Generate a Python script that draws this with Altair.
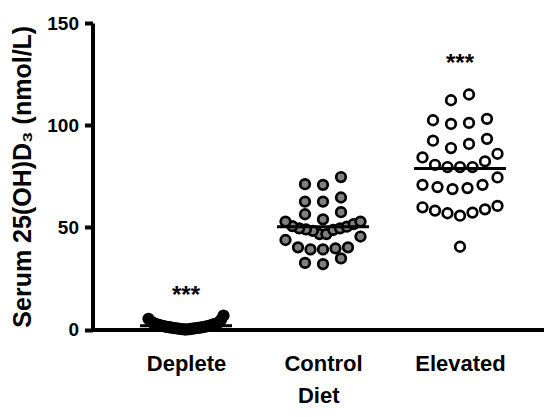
import json
import altair as alt
import pandas as pd

# ---------------- data ----------------
categories = ["Deplete", "Control", "Elevated"]
fills = ["#000000", "#808080", "#ffffff"]

deplete = [6.8, 0.4, 1.2, 2.5, 0.1, 3.1, 0.9, 1.6, 0.2, 2.2, 4.6, 0.6, 1.9, 0.3, 3.4,
           1.1, 0.0, 2.8, 0.8, 1.4, 0.5, 2.0, 3.9, 0.7, 1.3, 0.2, 2.6, 1.7, 0.9, 5.2]
control = [74.6, 71.1, 70.8, 64.6, 62.6, 62.6, 57.4, 56.4, 53.9, 52.8, 51.6, 52.8,
           50.6, 50.3, 49.5, 49.5, 49.0, 48.8, 48.3, 46.7, 46.7, 45.5, 43.8, 40.2,
           40.2, 39.2, 39.2, 39.7, 34.8, 32.6, 32.0]
elevated = [112.2, 115.0, 103.1, 101.1, 100.6, 102.4, 92.4, 88.8, 90.8, 93.3, 84.2,
            86.0, 80.6, 79.5, 79.5, 79.5, 82.3, 70.8, 69.7, 68.7, 69.2, 70.8, 74.4,
            59.8, 58.2, 56.9, 55.7, 57.2, 58.8, 60.5, 40.5]
groups = [deplete, control, elevated]

sig_groups = ["Deplete", "Elevated"]
sig_text = ["***", "***"]
sig_y = [13.1, 126.5]

# ---------------- layout helpers ----------------
PAD_L, PAD_T = 84.5, 15
W, H = 451.5, 306.5
PX_X = 137.0                       # px per category step
X0 = -(186 - 8 - PAD_L) / PX_X     # left end of the x domain
X_DOMAIN = [X0, X0 + W / PX_X]
PX_Y = H / 150.0
BIN = 7.0        # value span of one swarm row
MAXW = 75.0      # max row width in px
STEP = 18.0      # preferred spacing in px


def swarm(vals):
    s = sorted(vals)
    rows = []
    for v in s:
        if rows and v - rows[-1][0] <= BIN:
            rows[-1].append(v)
        else:
            rows.append([v])
    out = []
    for row in rows:
        n = len(row)
        step = STEP if n < 2 else min(STEP, MAXW / (n - 1))
        slots = sorted([i - (n - 1) / 2 for i in range(n)], key=lambda t: (abs(t), t))
        for v, t in zip(row, slots):
            out.append((v, t * step / PX_X))
    return out


pts = []
means = []
for gi, (name, vals) in enumerate(zip(categories, groups)):
    for v, off in swarm(vals):
        pts.append({"group": name, "x": gi + off, "value": v})
    m = sum(vals) / len(vals)
    means.append({"group": name, "x1": gi - 0.336, "x2": gi + 0.336, "mean": m})

pts_df = pd.DataFrame(pts)
mean_df = pd.DataFrame(means)
sig_df = pd.DataFrame({
    "x": [categories.index(g) for g in sig_groups],
    "y": sig_y,
    "text": sig_text,
})

FONT = "Liberation Sans"
label_expr = json.dumps(categories) + "[datum.value]"

x_scale = alt.Scale(domain=X_DOMAIN, nice=False, zero=False)
y_scale = alt.Scale(domain=[0, 150], nice=False)

x_axis = alt.Axis(
    values=[0, 1, 2], labelExpr=label_expr, title="Diet", grid=False, ticks=False,
    domainColor="black", domainWidth=4, labelFont=FONT, labelFontWeight="bold",
    labelFontSize=22, labelColor="black", labelPadding=24, titleFont=FONT,
    titleFontWeight="bold", titleFontSize=22, titleColor="black", titlePadding=11,
)
y_axis = alt.Axis(
    values=[0, 50, 100, 150], title="Serum 25(OH)D₃  (nmol/L)", grid=False,
    domainColor="black", domainWidth=4, tickColor="black", tickWidth=4,
    tickSize=8, labelFont=FONT, labelFontWeight="bold", labelFontSize=19,
    labelColor="black", labelPadding=6, titleFont=FONT, titleFontWeight="bold",
    titleFontSize=25, titleColor="black", titlePadding=11,
)

points = alt.Chart(pts_df).mark_circle(
    size=92, stroke="black", strokeWidth=2.7, opacity=1, clip=False
).encode(
    x=alt.X("x:Q", scale=x_scale, axis=x_axis),
    y=alt.Y("value:Q", scale=y_scale, axis=y_axis),
    fill=alt.Fill("group:N", scale=alt.Scale(domain=categories, range=fills), legend=None),
)

rules = alt.Chart(mean_df).mark_rule(color="black", strokeWidth=3).encode(
    x=alt.X("x1:Q", scale=x_scale),
    x2="x2:Q",
    y=alt.Y("mean:Q", scale=y_scale),
)

stars = alt.Chart(sig_df).mark_text(
    font=FONT, fontSize=24, fontWeight="bold", color="black",
    align="center", baseline="alphabetic"
).encode(
    x=alt.X("x:Q", scale=x_scale),
    y=alt.Y("y:Q", scale=y_scale),
    text="text:N",
)

chart = alt.layer(points, rules, stars).properties(
    width=W, height=H,
    padding={"left": PAD_L, "top": PAD_T, "right": 0, "bottom": 79.5},
    autosize=alt.AutoSizeParams(type="none"),
    background="white",
).configure_view(stroke=None)

chart.save("out.html", embed_options={"renderer": "svg", "actions": False})
